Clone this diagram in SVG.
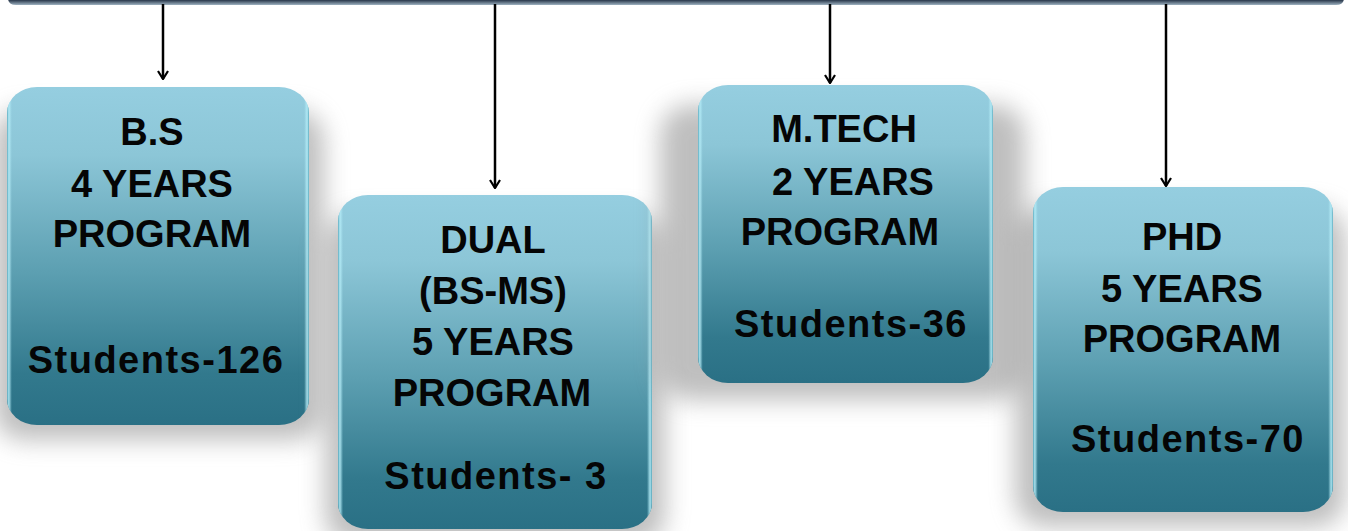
<svg xmlns="http://www.w3.org/2000/svg" width="1348" height="531" viewBox="0 0 1348 531">
<defs>
<style>
.lbl{font-family:"Liberation Sans",Arial,sans-serif;font-weight:bold;font-size:38px;fill:#050505;text-anchor:middle}
.stu{letter-spacing:1.5px}
.conn{stroke:#000;stroke-width:2.5;fill:none}
.box{fill:url(#boxGrad)}
.edge{fill:url(#edgeGrad)}
.shadow{fill:#8a8a8a;opacity:0.55;filter:url(#blur)}
</style>
<linearGradient id="boxGrad" x1="0" y1="0" x2="0" y2="1">
<stop offset="0" stop-color="#95cee0"/>
<stop offset="0.2" stop-color="#8cc6d7"/>
<stop offset="0.55" stop-color="#5c9fb1"/>
<stop offset="0.85" stop-color="#32798d"/>
<stop offset="1" stop-color="#2a7085"/>
</linearGradient>
<linearGradient id="edgeGrad" x1="0" y1="0" x2="1" y2="0">
<stop offset="0" stop-color="#5aa9bd" stop-opacity="0.9"/>
<stop offset="0.006" stop-color="#b4ecf7" stop-opacity="0.9"/>
<stop offset="0.016" stop-color="#b4ecf7" stop-opacity="0"/>
<stop offset="0.984" stop-color="#b4ecf7" stop-opacity="0"/>
<stop offset="0.994" stop-color="#b4ecf7" stop-opacity="0.9"/>
<stop offset="1" stop-color="#5aa9bd" stop-opacity="0.9"/>
</linearGradient>
<linearGradient id="barGrad" x1="0" y1="0" x2="0" y2="1">
<stop offset="0" stop-color="#26323f"/>
<stop offset="0.7" stop-color="#334255"/>
<stop offset="1" stop-color="#9fb3c2"/>
</linearGradient>
<filter id="blur" x="-30%" y="-30%" width="160%" height="160%">
<feGaussianBlur stdDeviation="12"/>
</filter>
<marker id="arrow" viewBox="0 0 12 12" refX="11" refY="6" markerWidth="12" markerHeight="12" markerUnits="userSpaceOnUse" orient="auto">
<polyline points="3,1 11,6 3,11" fill="none" stroke="#000" stroke-width="2.2"/>
</marker>
</defs>
<rect width="1348" height="531" fill="#ffffff"/>

<g id="topbar">
<path d="M8,-10 H1344 V-2 Q1344,5 1336,5 H16 Q8,5 8,-2 Z" fill="url(#barGrad)"/>
</g>

<g id="node-bs">
<rect class="shadow" x="-6" y="110" width="330" height="330" rx="30"/>
<rect class="box" x="7" y="87" width="302" height="338" rx="30" ry="26"/>
<rect class="edge" x="7" y="87" width="302" height="338" rx="30" ry="26"/>
<text class="lbl" x="152" y="145">B.S</text>
<text class="lbl" x="152" y="197">4 YEARS</text>
<text class="lbl" x="152" y="247">PROGRAM</text>
<text class="lbl stu" x="156" y="373">Students-126</text>
</g>

<g id="node-dual">
<rect class="shadow" x="325" y="215" width="340" height="330" rx="30"/>
<rect class="box" x="338" y="195" width="314" height="334" rx="30" ry="26"/>
<rect class="edge" x="338" y="195" width="314" height="334" rx="30" ry="26"/>
<text class="lbl" x="493" y="253">DUAL</text>
<text class="lbl" x="493" y="304">(BS-MS)</text>
<text class="lbl" x="493" y="355">5 YEARS</text>
<text class="lbl" x="492" y="406">PROGRAM</text>
<text class="lbl stu" x="496" y="489">Students- 3</text>
</g>

<g id="node-mtech">
<rect class="shadow" x="660" y="105" width="365" height="295" rx="30"/>
<rect class="box" x="698" y="85" width="295" height="298" rx="30" ry="26"/>
<rect class="edge" x="698" y="85" width="295" height="298" rx="30" ry="26"/>
<text class="lbl" x="844" y="142">M.TECH</text>
<text class="lbl" x="853" y="195">2 YEARS</text>
<text class="lbl" x="840" y="245">PROGRAM</text>
<text class="lbl stu" x="851" y="337">Students-36</text>
</g>

<g id="node-phd">
<rect class="shadow" x="1015" y="207" width="330" height="320" rx="30"/>
<rect class="box" x="1033" y="187" width="300" height="325" rx="30" ry="26"/>
<rect class="edge" x="1033" y="187" width="300" height="325" rx="30" ry="26"/>
<text class="lbl" x="1182" y="250">PHD</text>
<text class="lbl" x="1182" y="302">5 YEARS</text>
<text class="lbl" x="1182" y="352">PROGRAM</text>
<text class="lbl stu" x="1188" y="452">Students-70</text>
</g>

<g id="connectors">
<line class="conn" x1="163" y1="4" x2="163" y2="79" marker-end="url(#arrow)"/>
<line class="conn" x1="495" y1="4" x2="495" y2="188" marker-end="url(#arrow)"/>
<line class="conn" x1="830" y1="4" x2="830" y2="83" marker-end="url(#arrow)"/>
<line class="conn" x1="1166" y1="4" x2="1166" y2="186" marker-end="url(#arrow)"/>
</g>
</svg>
